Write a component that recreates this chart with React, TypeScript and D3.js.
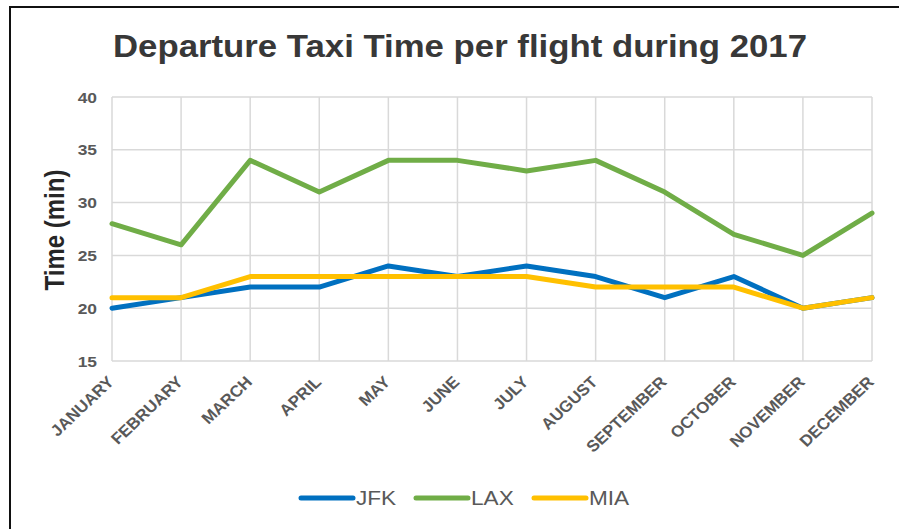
import React from "react";
import * as d3 from "d3";

const months = [
  "JANUARY", "FEBRUARY", "MARCH", "APRIL", "MAY", "JUNE",
  "JULY", "AUGUST", "SEPTEMBER", "OCTOBER", "NOVEMBER", "DECEMBER",
];
const jfk = [20, 21, 22, 22, 24, 23, 24, 23, 21, 23, 20, 21];
const lax = [28, 26, 34, 31, 34, 34, 33, 34, 31, 27, 25, 29];
const mia = [21, 21, 23, 23, 23, 23, 23, 22, 22, 22, 20, 21];
const yTicks = [15, 20, 25, 30, 35, 40];
const seriesNames = ["JFK", "LAX", "MIA"];
const seriesColors = ["#0070C0", "#70AD47", "#FFC000"];

const W = 899;
const H = 529;
const plot = { left: 112, right: 872, top: 97, bottom: 361 };
const FONT = "'Liberation Sans', Arial, Helvetica, sans-serif";
// text glyphs are drawn slightly wide
const SX = 1.16;

export default function App() {
  const x = d3.scalePoint<string>().domain(months).range([plot.left, plot.right]);
  const y = d3.scaleLinear().domain([15, 40]).range([plot.bottom, plot.top]);
  const line = d3
    .line<number>()
    .x((_, i) => x(months[i]) as number)
    .y((d) => y(d));
  const series = [jfk, lax, mia];

  const legendX = [301, 416, 534];

  return (
    <svg
      width={W}
      height={H}
      style={{ position: "absolute", left: 0, top: 0, background: "#fff" }}
      fontFamily={FONT}
    >
      <rect x={10} y={7} width={W + 20} height={H + 20} fill="#fff" stroke="#111" strokeWidth={2} />

      <text
        x={113}
        y={57}
        fontSize={31}
        fontWeight="bold"
        fill="#383838"
        textLength={694}
        lengthAdjust="spacingAndGlyphs"
      >
        Departure Taxi Time per flight during 2017
      </text>

      {/* grid */}
      <g stroke="#d9d9d9" strokeWidth={1.5}>
        {yTicks.map((t) => (
          <line key={"h" + t} x1={plot.left} x2={plot.right} y1={y(t)} y2={y(t)} />
        ))}
        {months.map((m) => (
          <line key={"v" + m} x1={x(m)} x2={x(m)} y1={plot.top} y2={plot.bottom} />
        ))}
      </g>

      {/* y tick labels */}
      {yTicks.map((t) => (
        <text
          key={"yt" + t}
          transform={`translate(97,${y(t) + 5.5}) scale(${SX},1)`}
          textAnchor="end"
          fontSize={15}
          fontWeight="bold"
          fill="#595959"
        >
          {t}
        </text>
      ))}

      <text
        transform={`translate(64,230) scale(${SX},1) rotate(-90)`}
        textAnchor="middle"
        fontSize={24}
        fontWeight="bold"
        fill="#262626"
      >
        Time (min)
      </text>

      {/* x tick labels */}
      {months.map((m) => (
        <text
          key={"xt" + m}
          transform={`translate(${(x(m) as number) + 3},${383}) scale(1.06,1) rotate(-45)`}
          textAnchor="end"
          fontSize={16}
          fontWeight="bold"
          fill="#595959"
        >
          {m}
        </text>
      ))}

      {/* series */}
      {series.map((s, i) => (
        <path
          key={seriesNames[i]}
          d={line(s) ?? ""}
          fill="none"
          stroke={seriesColors[i]}
          strokeWidth={5}
          strokeLinejoin="round"
          strokeLinecap="round"
        />
      ))}

      {/* legend */}
      {seriesNames.map((n, i) => (
        <g key={"lg" + n}>
          <line
            x1={legendX[i]}
            x2={legendX[i] + 52}
            y1={498}
            y2={498}
            stroke={seriesColors[i]}
            strokeWidth={5}
            strokeLinecap="round"
          />
          <text
            transform={`translate(${legendX[i] + 55},505) scale(${SX},1)`}
            fontSize={19.5}
            fill="#595959"
          >
            {n}
          </text>
        </g>
      ))}
    </svg>
  );
}
